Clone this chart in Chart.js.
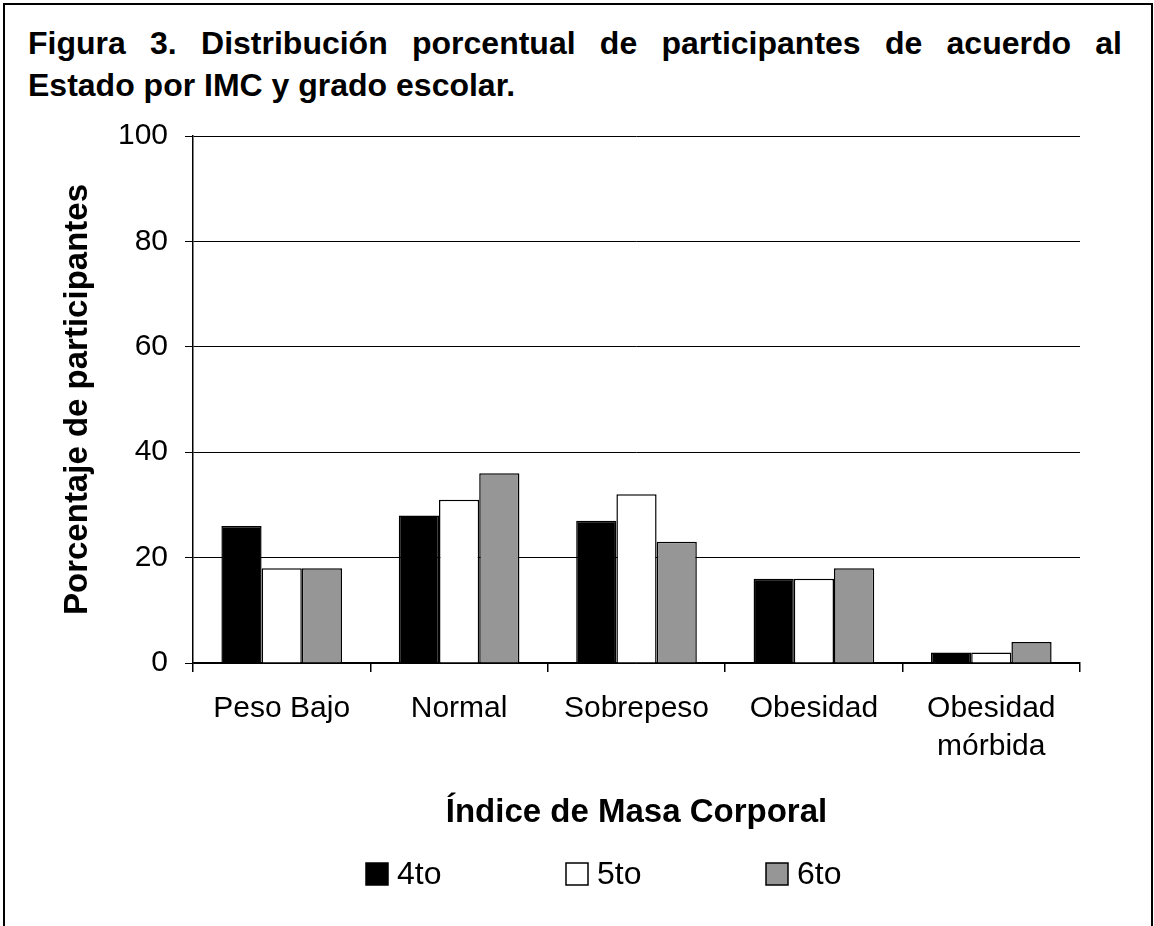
<!DOCTYPE html>
<html lang="es">
<head>
    <meta charset="UTF-8">
    <title>Figura 3</title>
    <script src="https://cdn.jsdelivr.net/npm/chart.js"></script>
    <style>
        body { margin: 0; background: #fff; font-family: "Liberation Sans", Arial, sans-serif; }
        .marco { position: absolute; left: 3px; top: 3px; width: 1146px; height: 1000px; border: 2px solid #000; }
        .titulo { position: absolute; left: 28px; top: 22px; width: 1094px; font-weight: bold; font-size: 32px; line-height: 42px; color: #000; }
        .titulo .l1 { display: block; text-align: justify; text-align-last: justify; }
        .wrap { position: absolute; left: 0; top: 0; width: 1154px; height: 926px; }
    </style>
</head>
<body>
    <div class="marco"></div>
    <div class="titulo">
        <span class="l1">Figura 3. Distribución porcentual de participantes de acuerdo al</span>
        <span>Estado por IMC y grado escolar.</span>
    </div>
    <div class="wrap"><canvas id="grafico"></canvas></div>

    <script>
        // Datos
        const categorias = ['Peso Bajo', 'Normal', 'Sobrepeso', 'Obesidad', ['Obesidad', 'mórbida']];
        const series = ['4to', '5to', '6to'];
        const grado4 = [26, 28, 27, 16, 2];
        const grado5 = [18, 31, 32, 16, 2];
        const grado6 = [18, 36, 23, 18, 4];
        const yTicks = [0, 20, 40, 60, 80, 100];

        const colores = ['#000000', '#ffffff', '#969696'];
        const fuente = '"Liberation Sans", Arial, sans-serif';

        // Leyenda dibujada a mano (cuadros + texto) a partir de los datasets
        const leyenda = {
            id: 'leyenda',
            afterDraw(chart) {
                const c = chart.ctx;
                const x0 = 366, paso = 200, y = 874, lado = 22;
                chart.data.datasets.forEach((ds, i) => {
                    const x = x0 + i * paso;
                    c.save();
                    c.fillStyle = ds.backgroundColor;
                    c.fillRect(x, y - lado / 2, lado, lado);
                    c.strokeStyle = '#000';
                    c.lineWidth = 1.5;
                    c.strokeRect(x, y - lado / 2, lado, lado);
                    c.fillStyle = '#000';
                    c.font = '32px ' + fuente;
                    c.textBaseline = 'middle';
                    c.fillText(ds.label, x + lado + 9, y + 1);
                    c.restore();
                });
            }
        };

        const ctx = document.getElementById('grafico').getContext('2d');
        new Chart(ctx, {
            type: 'bar',
            data: {
                labels: categorias,
                datasets: [grado4, grado5, grado6].map((d, i) => ({
                    label: series[i],
                    data: d,
                    backgroundColor: colores[i],
                    borderColor: '#000',
                    borderWidth: 1.5,
                    categoryPercentage: 0.68,
                    barPercentage: 1
                }))
            },
            options: {
                responsive: true,
                maintainAspectRatio: false,
                animation: false,
                layout: { padding: { top: 136, left: 58, right: 74, bottom: 89 } },
                plugins: {
                    tooltip: { enabled: false },
                    legend: { display: false }
                },
                scales: {
                    y: {
                        min: 0, max: 100,
                        afterFit: s => { s.width = 135; },
                        afterBuildTicks: s => { s.ticks = yTicks.map(v => ({ value: v })); },
                        ticks: { color: '#000', font: { family: fuente, size: 30 }, padding: 17 },
                        grid: { color: '#000', lineWidth: 1, tickLength: 8 },
                        border: { color: '#000', width: 1.5 },
                        title: {
                            display: true, text: 'Porcentaje de participantes', color: '#000',
                            font: { family: fuente, size: 33, weight: 'bold' }, padding: 0
                        }
                    },
                    x: {
                        afterFit: s => { s.height = 174; },
                        ticks: { color: '#000', font: { family: fuente, size: 30, lineHeight: 1.27 }, padding: 18, maxRotation: 0, autoSkip: false },
                        grid: { drawOnChartArea: false, offset: true, color: '#000', lineWidth: 1.5, tickLength: 9 },
                        border: { color: '#000', width: 1.5 },
                        title: {
                            display: true, text: 'Índice de Masa Corporal', color: '#000',
                            font: { family: fuente, size: 33, weight: 'bold' }, padding: { top: 0, bottom: 4 }
                        }
                    }
                }
            },
            plugins: [leyenda]
        });
    </script>
</body>
</html>
